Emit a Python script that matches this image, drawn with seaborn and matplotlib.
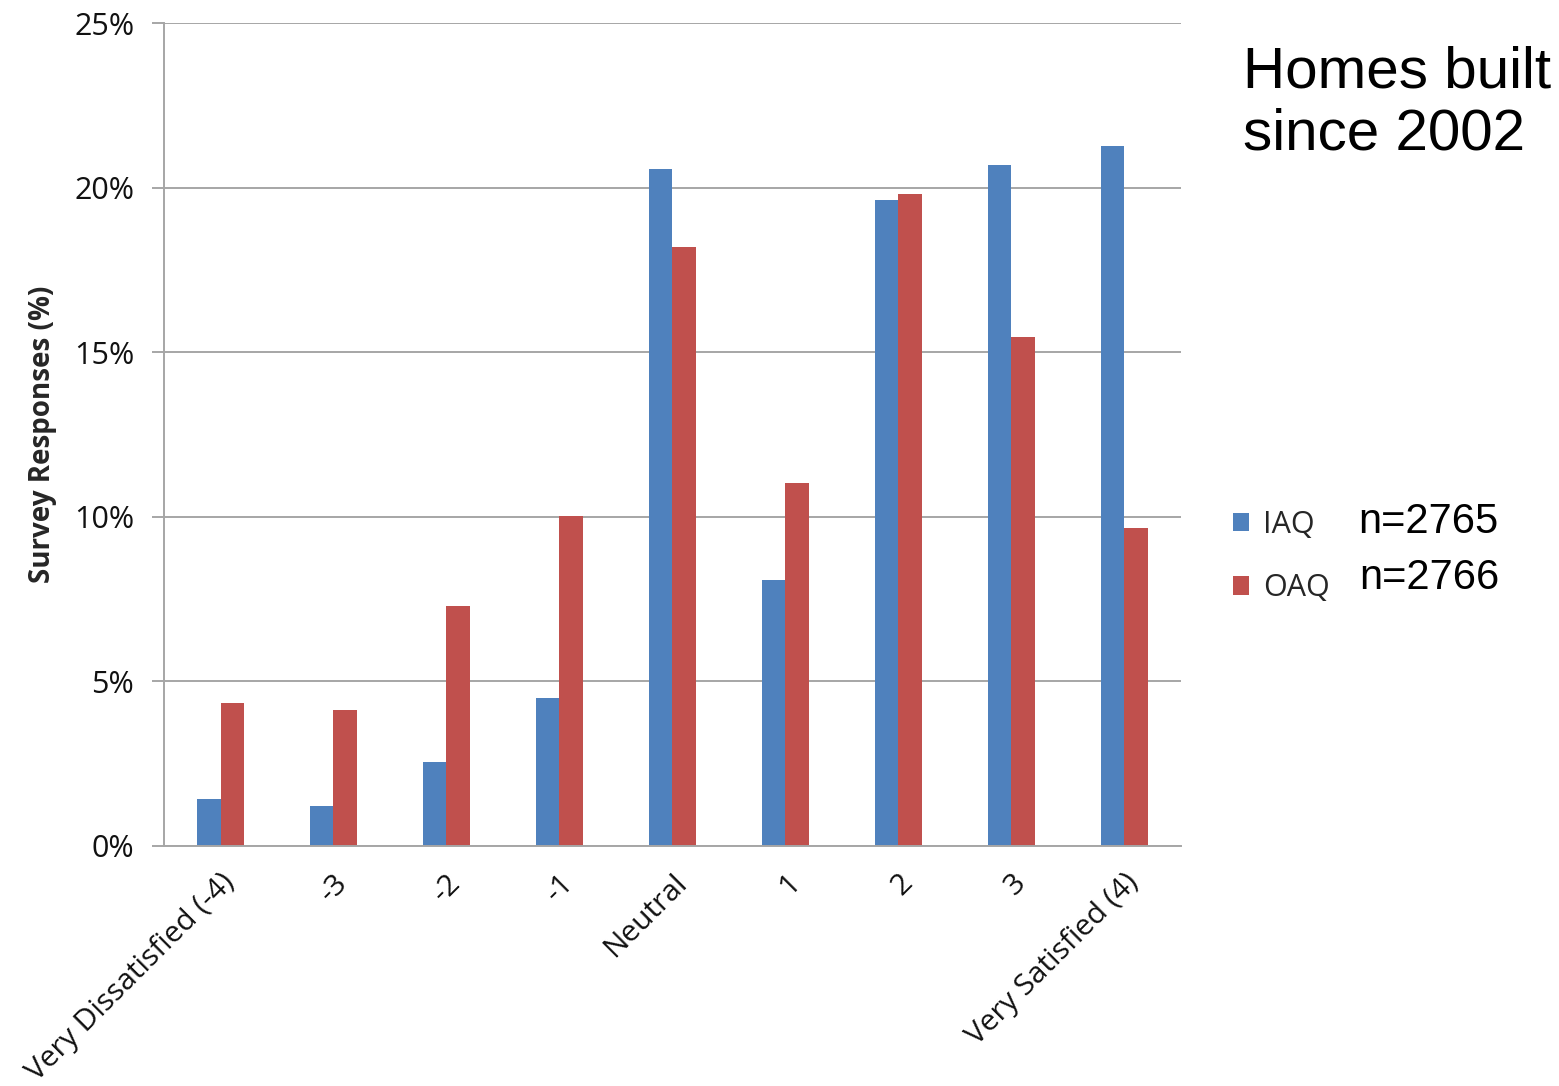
import matplotlib
matplotlib.use("Agg")
import matplotlib.pyplot as plt
import seaborn as sns
import pandas as pd
from matplotlib.ticker import FuncFormatter

# Satisfaction scale and response shares (%)
categories = ["Very Dissatisfied (-4)", "-3", "-2", "-1", "Neutral",
              "1", "2", "3", "Very Satisfied (4)"]
iaq = [1.43, 1.21, 2.55, 4.50, 20.57, 8.08, 19.62, 20.69, 21.26]
oaq = [4.34, 4.13, 7.29, 10.02, 18.20, 11.03, 19.80, 15.46, 9.66]
series = ["IAQ", "OAQ"]
counts = ["n=2765", "n=2766"]
yticks = [0, 5, 10, 15, 20, 25]

df = pd.DataFrame({
    "category": categories * 2,
    "value": iaq + oaq,
    "series": ["IAQ"] * len(categories) + ["OAQ"] * len(categories),
})

sns.set_theme(style="white")
plt.rcParams["font.family"] = ["Open Sans", "DejaVu Sans"]

fig = plt.figure(figsize=(15.59, 10.86), dpi=100)
ax = fig.add_axes([0.1052, 0.221, 0.6523, 0.7578])

sns.barplot(data=df, x="category", y="value", hue="series", order=categories,
            hue_order=series, palette=["#4F81BD", "#C0504D"], saturation=1,
            width=0.41, linewidth=0, ax=ax, legend=True)

ax.set_ylim(0, 25)
ax.set_xlim(-0.5, len(categories) - 0.5)
ax.set_yticks(yticks)
ax.yaxis.set_major_formatter(FuncFormatter(lambda v, p: f"{int(v)}%"))
ax.grid(axis="y", color="#A6A6A6", linewidth=1.4)
ax.set_axisbelow(True)
for s in ["top", "right"]:
    ax.spines[s].set_visible(False)
for s in ["left", "bottom"]:
    ax.spines[s].set_color("#A6A6A6")
    ax.spines[s].set_linewidth(1.4)
ax.tick_params(axis="y", length=8.5, width=1.4, color="#A6A6A6",
               labelsize=22, pad=13, left=True)
ax.tick_params(axis="x", length=0, labelsize=21.5, pad=16)

ax.set_xlabel("")
ax.set_ylabel("Survey Responses (%)", fontsize=20, fontweight="bold", labelpad=12)

for lbl in ax.get_xticklabels():
    lbl.set_rotation(45)
    lbl.set_ha("right")
    lbl.set_va("top")
    lbl.set_rotation_mode("anchor")
    lbl.set_color("#111111")
for lbl in ax.get_yticklabels():
    lbl.set_color("#111111")

handles, labels = ax.get_legend_handles_labels()
ax.get_legend().remove()
fig.legend(handles, labels, loc="upper left", bbox_to_anchor=(0.775, 0.553),
           frameon=False, fontsize=22, handlelength=0.55, handleheight=0.55,
           handletextpad=0.45, labelspacing=1.1, borderpad=0.3)

fig.text(0.797, 0.958, "Homes built\nsince 2002", ha="left", va="top",
         fontsize=42, family="Liberation Sans", linespacing=1.18, color="black")
fig.text(0.871, 0.519, counts[0], ha="left", va="center", fontsize=30,
         family="Liberation Sans", color="black")
fig.text(0.872, 0.468, counts[1], ha="left", va="center", fontsize=30,
         family="Liberation Sans", color="black")

fig.savefig("out.png", dpi=100)
